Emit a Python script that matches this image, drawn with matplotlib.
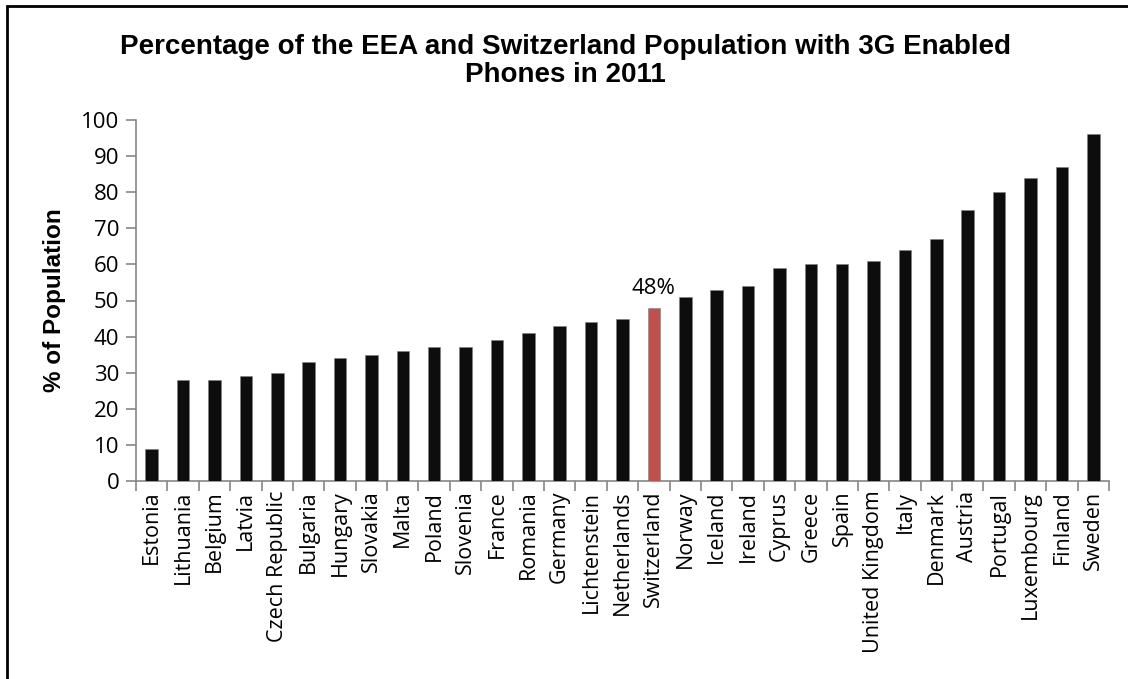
import matplotlib.pyplot as plt
from matplotlib.patches import Rectangle

countries = ["Estonia", "Lithuania", "Belgium", "Latvia", "Czech Republic", "Bulgaria",
             "Hungary", "Slovakia", "Malta", "Poland", "Slovenia", "France", "Romania",
             "Germany", "Lichtenstein", "Netherlands", "Switzerland", "Norway", "Iceland",
             "Ireland", "Cyprus", "Greece", "Spain", "United Kingdom", "Italy", "Denmark",
             "Austria", "Portugal", "Luxembourg", "Finland", "Sweden"]
share = [9, 28, 28, 29, 30, 33, 34, 35, 36, 37, 37, 39, 41, 43, 44, 45, 48, 51, 53, 54,
         59, 60, 60, 61, 64, 67, 75, 80, 84, 87, 96]
highlight = "Switzerland"

tick_font = "Open Sans"

fig = plt.figure(figsize=(11.28, 6.79), dpi=100)
ax = fig.add_axes([136 / 1128, 1 - 481 / 679, 973 / 1128, 361 / 679])

colors = ["#c0504d" if c == highlight else "#0d0d0d" for c in countries]
x = list(range(len(countries)))
ax.bar(x, share, width=0.4, color=colors, edgecolor="#7f7f7f", linewidth=0.4, zorder=3)

# value label on the highlighted bar
i = countries.index(highlight)
ax.text(x[i], share[i] + 2.5, f"{share[i]}%", ha="center", va="bottom",
        fontsize=16, family=tick_font)

ax.set_xlim(-0.5, len(countries) - 0.5)
ax.set_ylim(0, 100)
ax.set_yticks(range(0, 101, 10))
ax.set_xticks(x)
ax.set_xticklabels(countries, rotation=90, fontsize=15.5, family=tick_font)
ax.set_xticks([v + 0.5 for v in [-1] + x], minor=True)
ax.tick_params(axis="x", which="major", length=0, pad=7)
ax.tick_params(axis="x", which="minor", length=7, color="#868686", width=1.2)
ax.tick_params(axis="y", length=7, color="#868686", width=1.2, labelsize=16, pad=5)
for lab in ax.get_yticklabels():
    lab.set_family(tick_font)

for s in ["top", "right"]:
    ax.spines[s].set_visible(False)
for s in ["left", "bottom"]:
    ax.spines[s].set_color("#868686")
    ax.spines[s].set_linewidth(1.2)

ax.set_ylabel("% of Population", fontsize=17.5, fontweight="bold",
              family="Liberation Sans")
ax.yaxis.set_label_coords(-70 / 973, 0.5)

fig.text(565 / 1128, 1 - 61 / 679,
         "Percentage of the EEA and Switzerland Population with 3G Enabled\nPhones in 2011",
         ha="center", va="center", fontsize=20, fontweight="bold",
         family="Liberation Sans", linespacing=1.15)

# chart frame
fig.patches.append(Rectangle((7 / 1128, -0.1), 1.2, 1 - 6 / 679 + 0.1,
                             transform=fig.transFigure, fill=False,
                             edgecolor="black", linewidth=2))

fig.savefig("out.png", dpi=100)
